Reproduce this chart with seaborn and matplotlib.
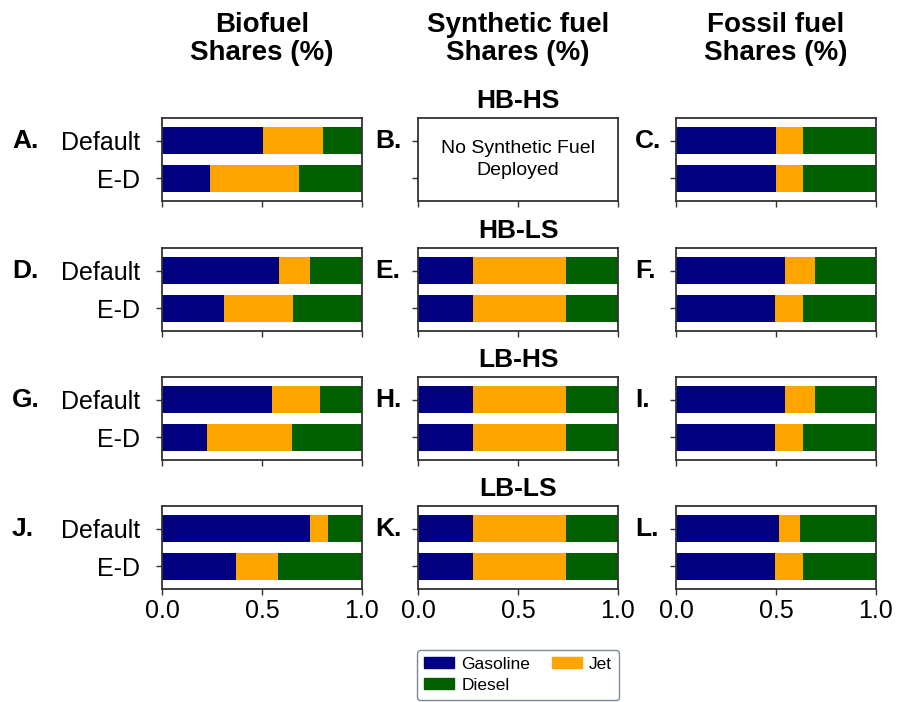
import matplotlib
matplotlib.use("Agg")
import matplotlib.pyplot as plt
from matplotlib.patches import Patch
import seaborn as sns
import pandas as pd

# ---------------- data ----------------
scenarios = ["HB-HS", "HB-LS", "LB-HS", "LB-LS"]
cases = ["Default", "E-D"]
fuel_types = ["Biofuel", "Synthetic fuel", "Fossil fuel"]
panel_letters = ["A.", "B.", "C.", "D.", "E.", "F.", "G.", "H.", "I.", "J.", "K.", "L."]

bio_gasoline = [[0.505, 0.240], [0.584, 0.310], [0.549, 0.227], [0.742, 0.369]]
bio_jet = [[0.300, 0.447], [0.157, 0.343], [0.240, 0.422], [0.087, 0.210]]
bio_diesel = [[0.195, 0.313], [0.259, 0.347], [0.211, 0.351], [0.171, 0.421]]

syn_gasoline = [None, [0.277, 0.277], [0.277, 0.277], [0.277, 0.277]]
syn_jet = [None, [0.465, 0.465], [0.465, 0.465], [0.465, 0.465]]
syn_diesel = [None, [0.258, 0.258], [0.258, 0.258], [0.258, 0.258]]

fos_gasoline = [[0.500, 0.500], [0.546, 0.497], [0.546, 0.497], [0.516, 0.497]]
fos_jet = [[0.136, 0.136], [0.149, 0.136], [0.149, 0.136], [0.104, 0.136]]
fos_diesel = [[0.364, 0.364], [0.305, 0.367], [0.305, 0.367], [0.380, 0.367]]

xticks = [0.0, 0.5, 1.0]
xtick_labels = ["0.0", "0.5", "1.0"]

series = {
    "Biofuel": (bio_gasoline, bio_jet, bio_diesel),
    "Synthetic fuel": (syn_gasoline, syn_jet, syn_diesel),
    "Fossil fuel": (fos_gasoline, fos_jet, fos_diesel),
}

col_gas, col_jet, col_dsl = "#000080", "#FFA500", "#006000"

# ---------------- style ----------------
sns.set_style("ticks")
plt.rcParams["font.family"] = ["Liberation Sans", "DejaVu Sans"]
plt.rcParams["axes.edgecolor"] = "#333333"
plt.rcParams["axes.linewidth"] = 1.3
plt.rcParams["text.color"] = "black"
plt.rcParams["xtick.color"] = "#333333"
plt.rcParams["ytick.color"] = "#333333"
plt.rcParams["xtick.labelcolor"] = "black"
plt.rcParams["ytick.labelcolor"] = "black"

W, H = 898, 702
fig = plt.figure(figsize=(W / 100, H / 100), dpi=100)

lefts = [162, 418, 676]
tops = [118, 248, 377, 506]
aw, ah = 200, 83

for r, scen in enumerate(scenarios):
    for c, ft in enumerate(fuel_types):
        ax = fig.add_axes([lefts[c] / W, 1 - (tops[r] + ah) / H, aw / W, ah / H])
        gas_l, jet_l, dsl_l = series[ft]
        if gas_l[r] is not None:
            df = pd.DataFrame({
                "case": cases,
                "gas": gas_l[r],
                "jet": jet_l[r],
                "dsl": dsl_l[r],
            })
            df["c_jet"] = df["gas"] + df["jet"]
            df["c_dsl"] = df["c_jet"] + df["dsl"]
            for col, color in [("c_dsl", col_dsl), ("c_jet", col_jet), ("gas", col_gas)]:
                sns.barplot(data=df, x=col, y="case", order=cases, color=color,
                            width=0.7, errorbar=None, orient="h", linewidth=0,
                            saturation=1, ax=ax)
        else:
            ax.text(0.5, 0.5, "No Synthetic Fuel\nDeployed", ha="center", va="center",
                    fontsize=14, transform=ax.transAxes, linespacing=1.45)
        ax.set_xlim(0, 1)
        ax.set_ylim(1.6, -0.6)
        ax.set_xlabel("")
        ax.set_ylabel("")
        ax.set_xticks(xticks)
        ax.set_yticks([0, 1])
        if c == 0:
            ax.set_yticklabels(cases, fontsize=18)
        else:
            ax.set_yticklabels([])
        if r == len(scenarios) - 1:
            ax.set_xticklabels(xtick_labels, fontsize=18)
        else:
            ax.set_xticklabels([])
        ax.tick_params(axis="x", length=4, width=1)
        ax.tick_params(axis="y", length=4, width=1, pad=12)
        for s in ax.spines.values():
            s.set_visible(True)
        # panel letter
        letter_x = [12, 375, 635][c]
        fig.text(letter_x / W, 1 - (tops[r] + 23) / H, panel_letters[r * 3 + c],
                 fontsize=19, fontweight="bold", ha="left", va="center")

    # scenario row title
    fig.text(518 / W, 1 - (tops[r] - 17) / H, scen, fontsize=19, fontweight="bold",
             ha="center", va="center")

# column titles
for c, ft in enumerate(fuel_types):
    fig.text((lefts[c] + aw / 2) / W, 1 - 12 / H, f"{ft}\nShares (%)", fontsize=20,
             fontweight="bold", ha="center", va="top", linespacing=1.1)

handles = [Patch(color=col_gas, label="Gasoline"),
           Patch(color=col_dsl, label="Diesel"),
           Patch(color=col_jet, label="Jet")]
leg = fig.legend(handles=handles, loc="lower center", bbox_to_anchor=(518 / W, 2 / H),
                 ncol=2, fontsize=12.5, frameon=True, fancybox=True, handlelength=1.75,
                 handleheight=0.6, handletextpad=0.4, columnspacing=1.25,
                 labelspacing=0.35, borderpad=0.4, borderaxespad=0)
leg.get_frame().set_edgecolor("#5a6a85")
leg.get_frame().set_linewidth(1.0)

fig.savefig("out.png", dpi=100)
